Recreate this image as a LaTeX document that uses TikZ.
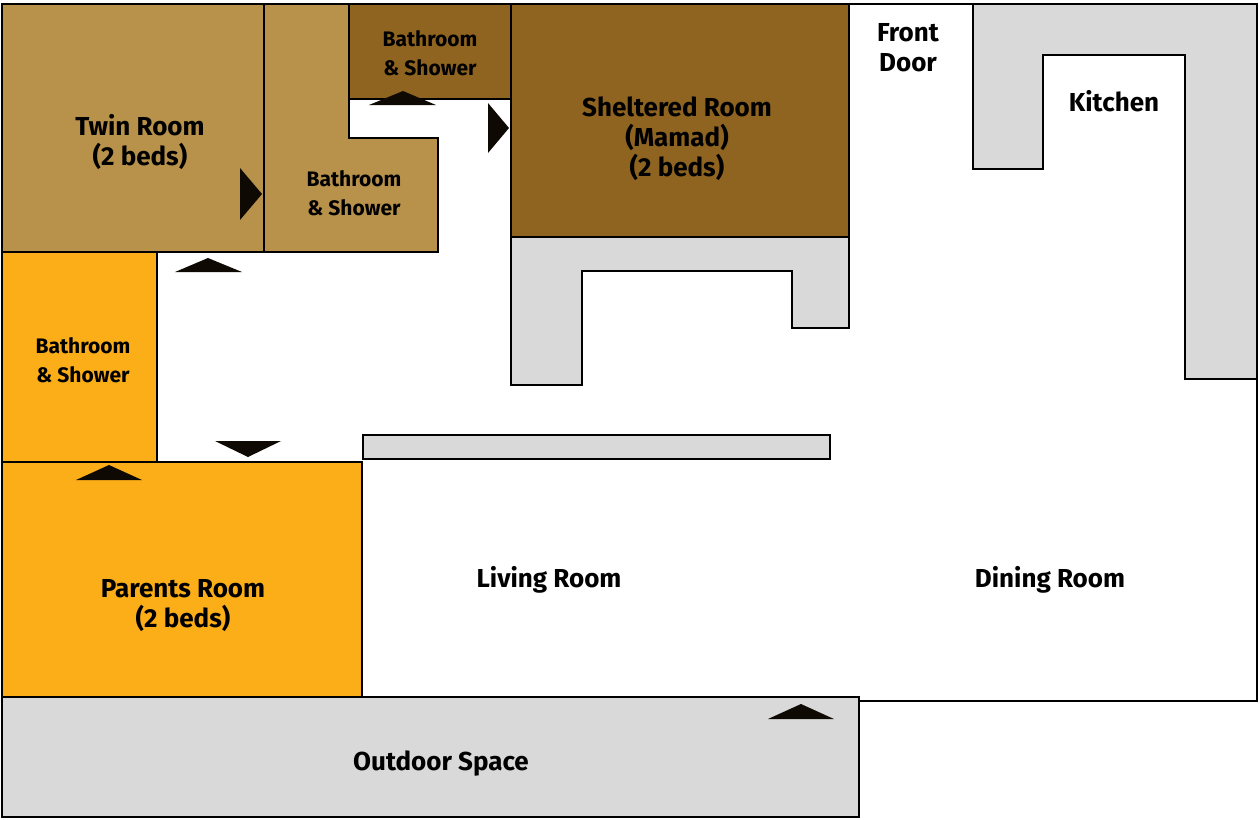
\documentclass[tikz,border=0pt]{standalone}
\usepackage{fontspec}
\setmainfont{Fira Sans}
\definecolor{tan}{HTML}{B8924A}
\definecolor{brown}{HTML}{8F6420}
\definecolor{orng}{HTML}{FBAE17}
\definecolor{gry}{HTML}{D9D9D9}
\begin{document}
\begin{tikzpicture}[x=0.5pt,y=-0.5pt,
  wall/.style={draw=black,line width=1pt},
  door/.style={fill=black!90!brown,draw=none},
  lbl/.style={font=\bfseries\fontsize{13}{15}\selectfont,align=center},
  slbl/.style={font=\bfseries\fontsize{10.5}{14.5}\selectfont,align=center}]
\useasboundingbox (0,0) rectangle (1260,820);
\fill[white] (0,0) rectangle (1260,820);
% house outline
\draw[wall] (849,4) -- (1257,4) -- (1257,701) -- (859,701);
% rooms
\draw[wall,fill=tan] (2,4) rectangle (264,252);
\draw[wall,fill=tan] (264,4) -- (349,4) -- (349,138) -- (438,138) -- (438,252) -- (264,252) -- cycle;
\draw[wall,fill=brown] (349,4) rectangle (511,99);
\draw[wall,fill=brown] (511,4) rectangle (849,237);
\draw[wall,fill=gry] (511,237) -- (849,237) -- (849,328) -- (792,328) -- (792,271) -- (582,271) -- (582,385) -- (511,385) -- cycle;
\draw[wall,fill=gry] (973,4) -- (1257,4) -- (1257,379) -- (1185,379) -- (1185,55) -- (1043,55) -- (1043,169) -- (973,169) -- cycle;
\draw[wall,fill=orng] (2,252) rectangle (157,462);
\draw[wall,fill=orng] (2,462) rectangle (362,697);
\draw[wall,fill=gry] (363,435) rectangle (830,459);
\draw[wall,fill=gry] (2,697) rectangle (859,817);
% doors
\fill[door] (175,272) -- (242,272) -- (208,258) -- cycle;
\fill[door] (215,441) -- (281,441) -- (248,457) -- cycle;
\fill[door] (76,480) -- (142,480) -- (109,465) -- cycle;
\fill[door] (369,105) -- (436,105) -- (403,91) -- cycle;
\fill[door] (768,719) -- (834,719) -- (801,704) -- cycle;
\fill[door] (240,168) -- (240,220) -- (262,194) -- cycle;
\fill[door] (488,103) -- (488,153) -- (509,128) -- cycle;
% labels
\node[lbl] (twin) at (140,142) {Twin Room\\(2 beds)};
\node[slbl] (b1) at (354,193) {Bathroom\\\& Shower};
\node[slbl] (b2) at (430,53) {Bathroom\\\& Shower};
\node[lbl] (shel) at (677,139) {Sheltered Room\\(Mamad)\\(2 beds)};
\node[lbl] (front) at (908,48) {Front\\Door};
\node[lbl] (kit) at (1114,101) {Kitchen};
\node[slbl] (b3) at (83,360) {Bathroom\\\& Shower};
\node[lbl] (par) at (183,606) {Parents Room\\(2 beds)};
\node[lbl] (liv) at (549,580) {Living Room};
\node[lbl] (din) at (1050,580) {Dining Room};
\node[lbl] (out) at (441,764) {Outdoor Space};
\end{tikzpicture}
\end{document}
